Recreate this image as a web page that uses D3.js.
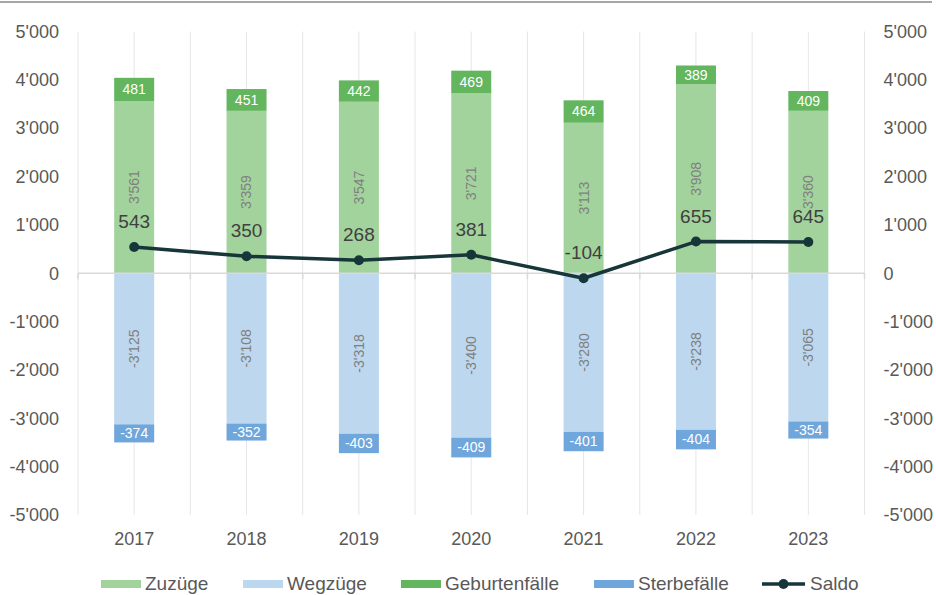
<!DOCTYPE html>
<html lang="de">
<head>
<meta charset="UTF-8" />
<title>Bevölkerungsbewegung</title>
<script src="https://d3js.org/d3.v7.min.js"></script>
<style>
    body { margin: 0; padding: 0; background: #fff; }
    svg text { font-family: 'Liberation Sans', Arial, sans-serif; }
    .tick-label { fill: #595959; font-size: 18px; }
    .legend text { font-size: 19px; fill: #595959; }
</style>
</head>
<body>
<svg id="chart" width="936" height="595"></svg>
<script>
    const years = ['2017', '2018', '2019', '2020', '2021', '2022', '2023'];
    const zuzuege = [3561, 3359, 3547, 3721, 3113, 3908, 3360];
    const wegzuege = [-3125, -3108, -3318, -3400, -3280, -3238, -3065];
    const geburten = [481, 451, 442, 469, 464, 389, 409];
    const sterbe = [-374, -352, -403, -409, -401, -404, -354];
    const saldo = [543, 350, 268, 381, -104, 655, 645];
    const yTicks = [-5000, -4000, -3000, -2000, -1000, 0, 1000, 2000, 3000, 4000, 5000];

    const keys = ['zuzuege', 'wegzuege', 'geburten', 'sterbe'];
    const colors = { zuzuege: '#a3d39c', wegzuege: '#bdd7ee', geburten: '#63b55e', sterbe: '#6fa6db' };
    const lineColor = '#17363a';

    const rows = years.map((y, i) => ({
        year: y, zuzuege: zuzuege[i], wegzuege: wegzuege[i], geburten: geburten[i], sterbe: sterbe[i], saldo: saldo[i]
    }));

    const svg = d3.select('#chart');
    const plotLeft = 78, plotRight = 864.5, plotTop = 31.5, plotBottom = 515;

    const x = d3.scaleBand().domain(years).range([plotLeft, plotRight]);
    const y = d3.scaleLinear().domain([-5000, 5000]).range([plotBottom, plotTop]);
    const barW = 40;
    const fmt = (v) => {
        const s = Math.abs(v).toString().replace(/\B(?=(\d{3})+(?!\d))/g, "'");
        return (v < 0 ? '-' : '') + s;
    };

    // frame line on top
    svg.append('line').attr('x1', 0).attr('x2', 932).attr('y1', 2).attr('y2', 2)
        .attr('stroke', '#a6a6a6').attr('stroke-width', 2);

    // vertical gridlines at category centers and boundaries
    const gridX = [];
    years.forEach((yr) => { gridX.push(x(yr)); gridX.push(x(yr) + x.bandwidth() / 2); });
    gridX.push(plotRight);
    svg.append('g').selectAll('line').data(gridX).join('line')
        .attr('x1', (d) => d).attr('x2', (d) => d)
        .attr('y1', plotTop).attr('y2', plotBottom)
        .attr('stroke', '#e6e6e6').attr('stroke-width', 1);

    // left and right axes
    const yAxisL = svg.append('g').attr('transform', `translate(${plotLeft - 16},0)`)
        .call(d3.axisLeft(y).tickValues(yTicks).tickSize(0).tickFormat(fmt));
    const yAxisR = svg.append('g').attr('transform', `translate(${plotRight + 16},0)`)
        .call(d3.axisRight(y).tickValues(yTicks).tickSize(0).tickFormat(fmt));
    [yAxisL, yAxisR].forEach((g) => {
        g.attr('font-family', null).attr('font-size', null);
        g.select('.domain').remove();
        g.selectAll('text').attr('class', 'tick-label').attr('fill', null);
    });

    // stacked bars
    const series = d3.stack().keys(keys).offset(d3.stackOffsetDiverging)(rows);
    const bx = (d) => x(d.data.year) + (x.bandwidth() - barW) / 2;

    const groups = svg.append('g').selectAll('g').data(series).join('g')
        .attr('fill', (s) => colors[s.key]);
    groups.selectAll('rect').data((s) => s).join('rect')
        .attr('x', bx)
        .attr('y', (d) => y(Math.max(d[0], d[1])))
        .attr('width', barW)
        .attr('height', (d) => Math.abs(y(d[0]) - y(d[1])));

    // bar labels
    series.forEach((s) => {
        const rotated = s.key === 'zuzuege' || s.key === 'wegzuege';
        svg.append('g').selectAll('text').data(s).join('text')
            .attr('transform', (d) => {
                const cx = x(d.data.year) + x.bandwidth() / 2;
                const cy = y((d[0] + d[1]) / 2);
                return rotated ? `translate(${cx},${cy}) rotate(-90)` : `translate(${cx},${cy})`;
            })
            .attr('text-anchor', 'middle')
            .attr('dy', '0.35em')
            .attr('font-size', 14)
            .attr('fill', rotated ? '#808080' : '#ffffff')
            .text((d) => fmt(d.data[s.key]));
    });

    // zero axis line with ticks
    svg.append('line').attr('x1', plotLeft).attr('x2', plotRight).attr('y1', y(0)).attr('y2', y(0))
        .attr('stroke', '#d9d9d9').attr('stroke-width', 1.5);
    svg.append('g').selectAll('line').data(years.map((d) => x(d)).concat([plotRight])).join('line')
        .attr('x1', (d) => d).attr('x2', (d) => d)
        .attr('y1', y(0)).attr('y2', y(0) + 6)
        .attr('stroke', '#d9d9d9').attr('stroke-width', 1.5);

    // x labels
    svg.append('g').selectAll('text').data(years).join('text')
        .attr('class', 'tick-label')
        .attr('x', (d) => x(d) + x.bandwidth() / 2)
        .attr('y', 545)
        .attr('text-anchor', 'middle')
        .text((d) => d);

    // saldo line
    const cx = (d) => x(d.year) + x.bandwidth() / 2;
    svg.append('path').datum(rows)
        .attr('fill', 'none').attr('stroke', lineColor).attr('stroke-width', 3.5)
        .attr('stroke-linejoin', 'round')
        .attr('d', d3.line().x(cx).y((d) => y(d.saldo)));
    svg.append('g').selectAll('circle').data(rows).join('circle')
        .attr('cx', cx).attr('cy', (d) => y(d.saldo)).attr('r', 5).attr('fill', lineColor);
    svg.append('g').selectAll('text').data(rows).join('text')
        .attr('x', cx).attr('y', (d) => y(d.saldo) - 19)
        .attr('text-anchor', 'middle')
        .attr('font-size', 19).attr('fill', '#404040')
        .text((d) => d.saldo);

    // legend
    const legend = [
        { label: 'Zuzüge', key: 'zuzuege', x: 101 },
        { label: 'Wegzüge', key: 'wegzuege', x: 243 },
        { label: 'Geburtenfälle', key: 'geburten', x: 401 },
        { label: 'Sterbefälle', key: 'sterbe', x: 594 },
        { label: 'Saldo', key: 'saldo', x: 762 }
    ];
    const lg = svg.append('g').attr('class', 'legend');
    const ly = 584;
    legend.forEach((l) => {
        if (l.key === 'saldo') {
            lg.append('line').attr('x1', l.x).attr('x2', l.x + 43).attr('y1', ly).attr('y2', ly)
                .attr('stroke', lineColor).attr('stroke-width', 3.5);
            lg.append('circle').attr('cx', l.x + 21.5).attr('cy', ly).attr('r', 5).attr('fill', lineColor);
            lg.append('text').attr('x', l.x + 48).attr('y', ly).attr('dy', '0.3em').text(l.label);
        } else {
            lg.append('rect').attr('x', l.x).attr('y', ly - 4).attr('width', 40).attr('height', 8)
                .attr('fill', colors[l.key]);
            lg.append('text').attr('x', l.x + 44).attr('y', ly).attr('dy', '0.3em').text(l.label);
        }
    });
</script>
</body>
</html>
